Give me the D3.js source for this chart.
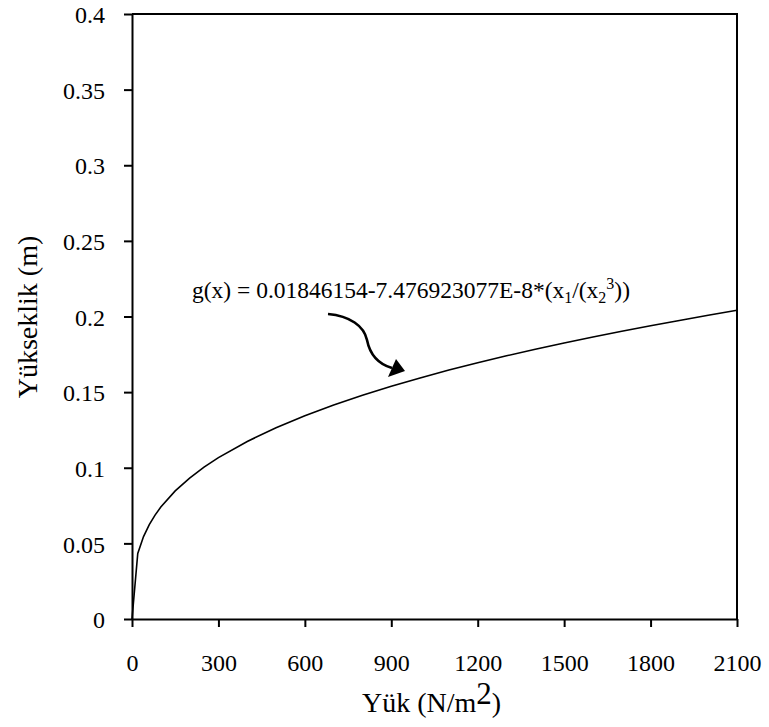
<!DOCTYPE html>
<html>
<head>
<meta charset="utf-8">
<script src="https://cdn.jsdelivr.net/npm/d3@7"></script>
<style>
  html, body { margin: 0; padding: 0; background: #fff; }
  svg { display: block; }
  text { font-family: "Liberation Serif", "Times New Roman", serif; fill: #000; }
</style>
</head>
<body>
<svg id="chart" width="769" height="727"></svg>
<script>
// Data
const loadValues = [0, 20, 40, 60, 80, 100, 150, 200, 250, 300, 400, 500, 600, 700, 800, 900, 1000, 1100, 1200, 1300, 1400, 1500, 1600, 1700, 1800, 1900, 2000, 2100];
const heightValues = [0, 0.0433, 0.0545, 0.0624, 0.0687, 0.0740, 0.0847, 0.0932, 0.1004, 0.1067, 0.1174, 0.1265, 0.1344, 0.1415, 0.1480, 0.1539, 0.1594, 0.1646, 0.1694, 0.1740, 0.1784, 0.1825, 0.1864, 0.1902, 0.1939, 0.1974, 0.2008, 0.2041];
const xTicks = [0, 300, 600, 900, 1200, 1500, 1800, 2100];
const yTicks = [0, 0.05, 0.1, 0.15, 0.2, 0.25, 0.3, 0.35, 0.4];
const yTickLabels = ["0", "0.05", "0.1", "0.15", "0.2", "0.25", "0.3", "0.35", "0.4"];
const xTitle = "Yük (N/m";
const xTitleSup = "2";
const yTitle = "Yükseklik (m)";

(function () {
const svg = d3.select("#chart");
const mLeft = 132, mRight = 737, mTop = 14, mBottom = 619;
const serif = '"Liberation Serif", "Times New Roman", serif';

const x = d3.scaleLinear().domain([0, 2100]).range([mLeft, mRight]);
const y = d3.scaleLinear().domain([0, 0.4]).range([mBottom, mTop]);

// Frame (top and right)
svg.append("path")
  .attr("d", `M${mLeft},${mTop}H${mRight}V${mBottom}`)
  .attr("fill", "none").attr("stroke", "#000").attr("stroke-width", 2);

// X axis
const xAxis = svg.append("g").attr("transform", `translate(0,${mBottom})`)
  .call(d3.axisBottom(x).tickValues(xTicks).tickSize(8).tickSizeOuter(0).tickFormat(d3.format("d")));
xAxis.attr("font-family", serif).attr("font-size", 24);
xAxis.select(".domain").attr("stroke-width", 2);
xAxis.selectAll(".tick line").attr("stroke-width", 2);
xAxis.selectAll(".tick text").attr("y", 52).attr("dy", 0);

// Y axis
const yAxis = svg.append("g").attr("transform", `translate(${mLeft},0)`)
  .call(d3.axisLeft(y).tickValues(yTicks).tickSize(8).tickSizeOuter(0)
    .tickFormat((d, i) => yTickLabels[i]));
yAxis.attr("font-family", serif).attr("font-size", 24);
yAxis.select(".domain").attr("stroke-width", 2);
yAxis.selectAll(".tick line").attr("stroke-width", 2);
yAxis.selectAll(".tick text").attr("x", -27).attr("dy", "0.36em");

// Curve
svg.append("path")
  .datum(heightValues)
  .attr("d", d3.line().x((d, i) => x(loadValues[i])).y(d => y(d)).curve(d3.curveLinear))
  .attr("fill", "none").attr("stroke", "#000").attr("stroke-width", 1.6);

// Axis titles
const xt = svg.append("text").attr("x", 362).attr("y", 712)
  .style("font-size", "28px");
xt.append("tspan").text(xTitle);
xt.append("tspan").attr("dy", -8).style("font-size", "31px").text(xTitleSup);
xt.append("tspan").attr("dy", 8).text(")");

svg.append("text")
  .attr("transform", `translate(37,317) rotate(-90)`)
  .attr("text-anchor", "middle")
  .style("font-size", "28px")
  .text(yTitle);

// Annotation
const ann = svg.append("text").attr("x", 192).attr("y", 298).style("font-size", "23.5px");
ann.append("tspan").text("g(x) = 0.01846154-7.476923077E-8*(x");
ann.append("tspan").attr("dy", 5).style("font-size", "16px").text("1");
ann.append("tspan").attr("dy", -5).text("/(x");
ann.append("tspan").attr("dy", 5).style("font-size", "16px").text("2");
ann.append("tspan").attr("dy", -14).style("font-size", "16px").text("3");
ann.append("tspan").attr("dy", 9).text("))");

svg.append("path")
  .attr("d", "M328,314 C350,316 364,326 367,340 C370,355 378,364 392,368")
  .attr("fill", "none").attr("stroke", "#000").attr("stroke-width", 2.6);
svg.append("path")
  .attr("d", "M405,371 L388,377 L396,359 Z")
  .attr("fill", "#000");
})();
</script>
</body>
</html>
